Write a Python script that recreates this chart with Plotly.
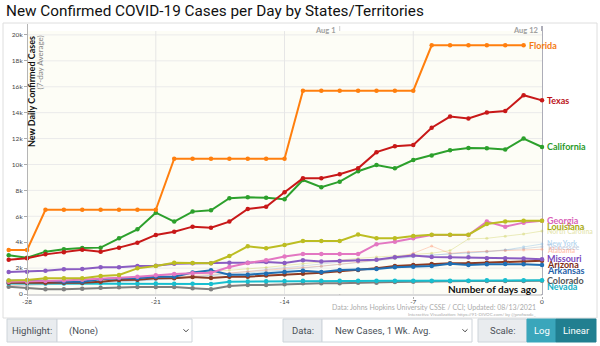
import plotly.graph_objects as go

# ---------------- data ----------------
days = list(range(-29, 1))  # number of days ago

florida = [3400, 3400] + [6500]*7 + [10450]*7 + [15700]*7 + [19200]*6 + [None]
texas = [2650, 2760, 3060, 3220, 3420, 3270, 3580, 3960, 4560, 4810,
         5200, 5120, 5590, 6560, 6740, 7850, 8930, 8930, 9240, 9700,
         10950, 11410, 11510, 12840, 13700, 13550, 14010, 14120, 15350, 14950]
california = [3000, 2800, 3270, 3450, 3550, 3580, 4300, 4990, 6280, 5590,
              6360, 6460, 7390, 7460, 7440, 7310, 8800, 8240, 8670, 9480,
              9960, 9700, 10345, 10700, 11100, 11280, 11250, 11150, 12000, 11350]
georgia = [950, 950, 1000, 1050, 1100, 1150, 1250, 1340, 1450, 1550,
           1600, 1640, 2080, 2400, 2600, 2900, 3090, 3090, 3090, 3090,
           3850, 4040, 4300, 4555, 4555, 4555, 5590, 5200, 5510, 5660]
louisiana = [1050, 1080, 1210, 1210, 1210, 1390, 1470, 1980, 2160, 2420,
             2400, 2380, 2930, 3680, 3540, 3780, 4100, 4100, 4100, 4590,
             4300, 4300, 4480, 4580, 4580, 4580, 5400, 5590, 5660, 5660]
missouri = [1700, 1724, 1790, 1915, 1930, 2059, 2059, 2162, 2175, 2330,
            2368, 2368, 2419, 2419, 2470, 2400, 2600, 2500, 2550, 2580,
            2650, 2830, 2970, 2850, 2830, 2830, 2755, 2755, 2740, 2680]
arizona = [875, 875, 875, 875, 875, 950, 1080, 1100, 1210, 1210,
           1320, 1230, 1340, 1340, 1430, 1510, 1560, 1640, 1760, 1850,
           1980, 2160, 2240, 2316, 2368, 2368, 2419, 2470, 2490, 2570]
arkansas = [1030, 1030, 1030, 950, 950, 1130, 1210, 1210, 1340, 1340,
            1660, 1830, 1490, 1490, 1570, 1700, 1790, 1690, 1850, 1900,
            1940, 2060, 2110, 2160, 2340, 2240, 2290, 2316, 2290, 2240]
colorado = [560, 440, 360, 360, 400, 480, 530, 540, 540, 540,
            437, 360, 618, 695, 700, 750, 823, 823, 830, 875,
            875, 926, 950, 980, 990, 1000, 1000, 1000, 1010, 1020]
nevada = [820, 820, 820, 820, 830, 830, 820, 820, 820, 800,
          790, 772, 950, 960, 980, 1000, 1030, 1030, 1030, 1030,
          1030, 1030, 1030, 1030, 1030, 1030, 1055, 1055, 1055, 1055]
north_carolina = [850, 900, 950, 1000, 1050, 1100, 1200, 1300, 1400, 1500,
                  1600, 1750, 1850, 1950, 2050, 2200, 2350, 2500, 2600, 2750,
                  2850, 2950, 3050, 3150, 3350, 4250, 4300, 4450, 4630, 4860]
new_york = [700, 720, 750, 800, 850, 900, 950, 1000, 1100, 1200,
            1300, 1400, 1500, 1600, 1700, 1850, 2000, 2150, 2300, 2450,
            2600, 2750, 2900, 3000, 3100, 3150, 3250, 3400, 3650, 3860]
tennessee = [600, 650, 700, 750, 800, 850, 900, 1000, 1100, 1200,
             1300, 1450, 1600, 1750, 1900, 2050, 2200, 2350, 2500, 2600,
             2700, 2800, 2900, 3000, 3100, 3150, 3300, 3400, 3500, 3650]
alabama = [650, 700, 750, 800, 850, 900, 1000, 1100, 1200, 1300,
           1400, 1500, 1600, 1700, 1800, 1900, 2000, 2150, 2300,
           2450, 2630, 2760, 3140, 3700, 3140, 3250, 3300, 3350, 3400, 3450]

x_ticks = [-28, -21, -14, -7, 0]
y_ticks = [0, 2000, 4000, 6000, 8000, 10000, 12000, 14000, 16000, 18000, 20000]
y_tick_text = ["0", "2k", "4k", "6k", "8k", "10k", "12k", "14k", "16k", "18k", "20k"]
date_marks = [(-11, "Aug 1"), (0, "Aug 12")]

# (name, values, line colour, label colour, label y, faded)
series = [
    ("North Carolina", north_carolina, "rgba(188,189,34,0.28)", "rgba(200,200,90,0.45)", 4864, True),
    ("New York", new_york, "rgba(120,180,225,0.35)", "rgba(120,180,225,0.55)", 3914, True),
    ("Tennessee", tennessee, "rgba(150,170,200,0.35)", "rgba(150,170,200,0.55)", 3652, True),
    ("Alabama", alabama, "rgba(255,140,100,0.35)", "rgba(255,140,100,0.5)", 3397, True),
    ("Colorado", colorado, "#7f7f7f", "#555555", 1081, False),
    ("Nevada", nevada, "#17becf", "#17b0c4", 579, False),
    ("Arizona", arizona, "#8c3a22", "#7d2a14", 2316, False),
    ("Arkansas", arkansas, "#1f6fb4", "#1f5fa8", 1853, False),
    ("Missouri", missouri, "#8a5cc2", "#7a48bd", 2779, False),
    ("Georgia", georgia, "#e377c2", "#d963b8", 5713, False),
    ("Louisiana", louisiana, "#bcbd22", "#a9aa14", 5211, False),
    ("California", california, "#2ca02c", "#2a9a2a", 11350, False),
    ("Texas", texas, "#c81818", "#bb1219", 14950, False),
    ("Florida", florida, "#ff7f0e", "#f47a12", 19200, False),
]

# ---------------- layout geometry ----------------
W, H = 600, 346
PL, PR, PT, PB = 5, 597, 24, 296
X0, X1 = -29.2, 2.99
Y0, Y1 = -154, 20844


def px(x):
    return (x - PL) / (PR - PL)


def py(y):
    return (PB - y) / (PB - PT)


fig = go.Figure()

for name, vals, lc, tc, ly, faded in series:
    fig.add_trace(go.Scatter(
        x=days, y=vals, mode="lines+markers", name=name,
        line=dict(color=lc, width=1 if faded else 2),
        marker=dict(color=lc, size=3 if faded else 4.5),
        hoverinfo="skip", showlegend=False, connectgaps=False,
    ))

# invisible trace to carry the left value axis
fig.add_trace(go.Scatter(x=[-28], y=[0], yaxis="y2", mode="markers",
                         marker=dict(opacity=0), hoverinfo="skip", showlegend=False))

shapes = []
ann = []

# background tint of the chart area
shapes.append(dict(type="rect", xref="x", yref="y", x0=-28, x1=0, y0=0, y1=20300,
                   fillcolor="#fdfdf6", line=dict(width=0), layer="below"))
# horizontal gridlines
for v in y_ticks[1:]:
    shapes.append(dict(type="line", xref="x", yref="y", x0=-28, x1=0, y0=v, y1=v,
                       line=dict(color="#ebebeb", width=1), layer="below"))
# vertical gridlines
for t in x_ticks[1:-1]:
    shapes.append(dict(type="line", xref="x", yref="y", x0=t, x1=t, y0=0, y1=20300,
                       line=dict(color="#e6e6e6", width=1), layer="below"))
# date marker lines
for d, lab in date_marks:
    last = d == 0
    shapes.append(dict(type="line", xref="x", yref="paper", x0=d, x1=d, y0=py(295), y1=py(26),
                       line=dict(color="#9a9aa8" if last else "#cfcfcf", width=1.6 if last else 1),
                       layer="below"))
    ann.append(dict(x=d, y=py(30.5), xref="x", yref="paper", text="<b>%s</b>" % lab,
                    showarrow=False, xanchor="right", yanchor="middle", xshift=-2,
                    font=dict(family="Lato", size=7.5, color="#a0a0a0")))
# x axis line
shapes.append(dict(type="line", xref="x", yref="paper", x0=-28, x1=0, y0=py(295), y1=py(295),
                   line=dict(color="#b5b5b5", width=1)))
# outer frame
shapes.append(dict(type="rect", xref="paper", yref="paper", x0=px(3), x1=px(597),
                   y0=py(318), y1=py(23), line=dict(color="#dedede", width=1)))

# series labels
for name, vals, lc, tc, ly, faded in series:
    last_i = max(i for i, v in enumerate(vals) if v is not None)
    ann.append(dict(x=days[last_i], y=ly, xref="x", yref="y", text="<b>%s</b>" % name,
                    showarrow=False, xanchor="left", yanchor="middle", xshift=3,
                    font=dict(family="Lato", size=7 if faded else 9, color=tc)))

# title
ann.append(dict(x=px(4), y=py(11), xref="paper", yref="paper",
                text="New Confirmed COVID-19 Cases per Day by States/Territories",
                showarrow=False, xanchor="left", yanchor="middle",
                font=dict(family="Roboto", size=15.3, color="#111111")))
# y axis titles
ann.append(dict(x=px(31.5), y=py(34), xref="paper", yref="paper",
                text="<b>New Daily Confirmed Cases</b>", textangle=-90,
                showarrow=False, xanchor="center", yanchor="top",
                font=dict(family="Lato", size=9, color="#111111")))
ann.append(dict(x=px(39.5), y=py(34), xref="paper", yref="paper",
                text="(7-day Average)", textangle=-90,
                showarrow=False, xanchor="center", yanchor="top",
                font=dict(family="Lato", size=8, color="#8a8a8a")))
# x axis title
ann.append(dict(x=0, y=py(289), xref="x", yref="paper", text="<b>Number of days ago</b>",
                showarrow=False, xanchor="right", yanchor="middle", xshift=-3,
                font=dict(family="Lato", size=10, color="#111111")))
# source
ann.append(dict(x=px(538), y=py(307.5), xref="paper", yref="paper",
                text="Data: Johns Hopkins University CSSE / CCI; Updated: 08/13/2021",
                showarrow=False, xanchor="right", yanchor="middle",
                font=dict(family="Lato", size=7, color="#ababab")))
ann.append(dict(x=px(538), y=py(314.5), xref="paper", yref="paper",
                text="Interactive Visualization: https://91-DIVOC.com/ by @profwade_",
                showarrow=False, xanchor="right", yanchor="middle",
                font=dict(family="Lato", size=4.5, color="#ababab")))

# ---------------- control row ----------------
RY0, RY1 = 319, 342


def box(x0, x1, fill, border="#ced4da"):
    shapes.append(dict(type="rect", xref="paper", yref="paper", x0=px(x0), x1=px(x1),
                       y0=py(RY1), y1=py(RY0), fillcolor=fill, line=dict(color=border, width=1)))


def label(x, text, anchor="center", color="#495057"):
    ann.append(dict(x=px(x), y=py((RY0 + RY1) / 2), xref="paper", yref="paper", text=text,
                    showarrow=False, xanchor=anchor, yanchor="middle",
                    font=dict(family="Roboto", size=9.5, color=color)))


def chevron(x):
    yc = (RY0 + RY1) / 2
    shapes.append(dict(type="path", xref="paper", yref="paper",
                       path="M %f %f L %f %f L %f %f" % (px(x - 2.5), py(yc - 1.2), px(x), py(yc + 1.3),
                                                         px(x + 2.5), py(yc - 1.2)),
                       line=dict(color="#444", width=1)))


box(7, 57, "#e9ecef")
box(57, 192, "#ffffff")
label(32, "Highlight:")
label(67, "(None)", "left")
chevron(186)

box(283, 322, "#e9ecef")
box(322, 472, "#ffffff")
label(302.5, "Data:")
label(333, "New Cases, 1 Wk. Avg.", "left")
chevron(465)

box(478, 527, "#e9ecef")
box(527, 556, "#3aa6bb", "#3aa6bb")
box(556, 596, "#217f90", "#217f90")
label(502.5, "Scale:")
label(541.5, "Log", color="#ffffff")
label(576, "Linear", color="#ffffff")

fig.update_layout(
    width=W, height=H,
    margin=dict(l=PL, r=W - PR, t=PT, b=H - PB, pad=0),
    paper_bgcolor="#ffffff", plot_bgcolor="#ffffff",
    shapes=shapes, annotations=ann,
    xaxis=dict(range=[X0, X1], tickvals=x_ticks, ticktext=[str(t) for t in x_ticks],
               ticks="outside", ticklen=2, tickcolor="#aaaaaa", showgrid=False,
               zeroline=False, showline=False, ticklabelstandoff=-3,
               tickfont=dict(family="Lato", size=6.5, color="#444444")),
    yaxis=dict(range=[Y0, Y1], showgrid=False, zeroline=False, showticklabels=False,
               showline=False, ticks=""),
    yaxis2=dict(range=[Y0, Y1], overlaying="y", anchor="free", position=px(27), side="left",
                tickvals=y_ticks, ticktext=y_tick_text, ticks="outside", ticklen=3,
                tickcolor="#aaaaaa", showgrid=False, zeroline=False, showline=True,
                linecolor="#b5b5b5", linewidth=1,
                tickfont=dict(family="Lato", size=6.5, color="#444444")),
)

fig.write_html("out.html")
